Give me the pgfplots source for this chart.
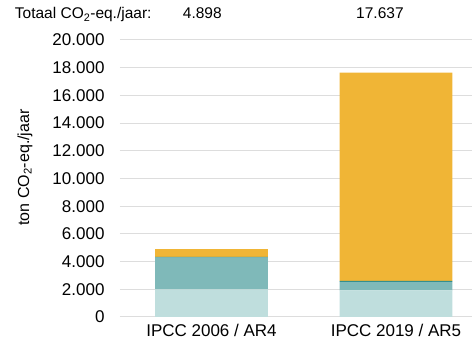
\documentclass[border=0pt]{standalone}
\usepackage{pgfplots}
\pgfplotsset{compat=1.18}
\usepackage{fontspec}
\setmainfont{Liberation Sans}
\definecolor{cLight}{HTML}{BFDEDD}
\definecolor{cMed}{HTML}{7FB9B9}
\definecolor{cDark}{HTML}{2A8A88}
\definecolor{cOrange}{HTML}{F0B536}
\definecolor{cGrid}{HTML}{DDDDDD}
\begin{document}
\begin{tikzpicture}
\useasboundingbox (-120pt,-27pt) rectangle (352pt,317pt);
\begin{axis}[
  at={(0pt,0pt)}, anchor=south west,
  scale only axis, width=352pt, height=277pt,
  ybar stacked, bar width=0.612,
  xmin=-0.496, xmax=1.412,
  ymin=0, ymax=20000,
  xtick={0,1}, xticklabels={IPCC 2006 / AR4, IPCC 2019 / AR5},
  ytick={0,2000,...,20000},
  scaled y ticks=false,
  /pgf/number format/assume math mode=true,
  /pgf/number format/fixed,
  /pgf/number format/1000 sep={.},
  ticklabel style={font=\fontsize{17}{20}\selectfont},
  major tick length=0pt,
  axis line style={draw=none},
  ymajorgrids, grid style={cGrid, line width=1pt},
  yticklabel style={xshift=-12pt},
  xticklabel style={yshift=-4pt},
  ylabel={ton CO\textsubscript{2}-eq./jaar},
  ylabel style={font=\fontsize{16}{19}\selectfont, at={(axis description cs:-0.27,0.54)}, anchor=center},
  clip=false,
]
\addplot[fill=cLight, draw=none] coordinates {(0,2000) (1,1930)};
\addplot[fill=cMed, draw=none] coordinates {(0,2280) (1,600)};
\addplot[fill=cDark, draw=none] coordinates {(0,60) (1,70)};
\addplot[fill=cOrange, draw=none] coordinates {(0,558) (1,15037)};
\node[anchor=base east, font=\fontsize{15.5}{18}\selectfont] at (axis cs:-0.306,21520) {Totaal CO\textsubscript{2}-eq./jaar:};
\node[anchor=base, font=\fontsize{15.5}{18}\selectfont] at (axis cs:-0.05,21520) {4.898};
\node[anchor=base, font=\fontsize{15.5}{18}\selectfont] at (axis cs:0.913,21520) {17.637};
\end{axis}
\end{tikzpicture}
\end{document}
